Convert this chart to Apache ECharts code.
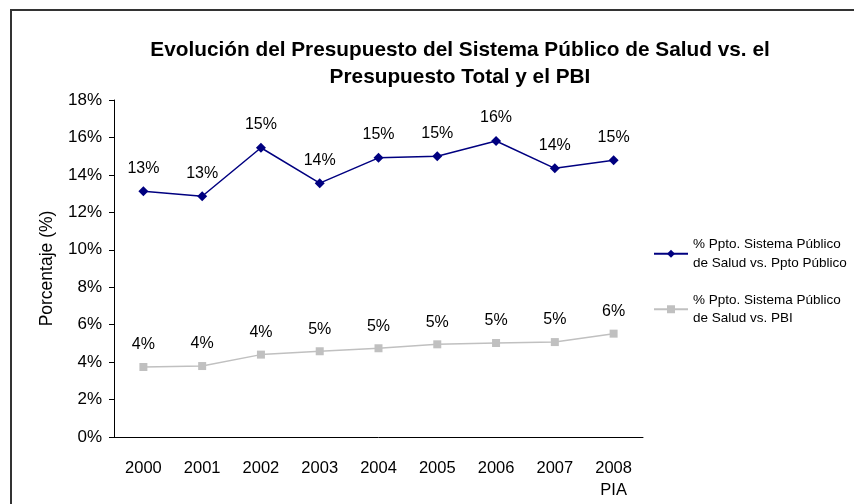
<!DOCTYPE html>
<html>
<head>
<meta charset="utf-8">
<script src="https://cdn.jsdelivr.net/npm/echarts@6/dist/echarts.min.js"></script>
<style>
  html, body { margin: 0; padding: 0; background: #fff; }
  #chart { width: 854px; height: 504px; }
</style>
</head>
<body>
<div id="chart"></div>
<script>
// categorias (años)
var years = ['2000', '2001', '2002', '2003', '2004', '2005', '2006', '2007', '2008\nPIA'];
// % Ppto. Sistema Público de Salud vs. Ppto Público
var vsPptoPublico = [13.13, 12.86, 15.45, 13.56, 14.91, 15.0, 15.81, 14.35, 14.78];
// % Ppto. Sistema Público de Salud vs. PBI
var vsPBI = [3.74, 3.79, 4.40, 4.58, 4.74, 4.95, 5.02, 5.07, 5.52];
var serieNames = [
  '% Ppto. Sistema Público\nde Salud vs. Ppto Público',
  '% Ppto. Sistema Público\nde Salud vs. PBI'
];

var font = 'Liberation Sans, Arial, sans-serif';
var chart = echarts.init(document.getElementById('chart'));

var labelCfg = {
  show: true,
  position: 'top',
  distance: 10,
  fontFamily: font,
  fontSize: 16,
  color: '#000',
  formatter: function (p) { return Math.round(p.value) + '%'; }
};

var option = {
  backgroundColor: '#fff',
  animation: false,
  title: {
    text: 'Evolución del Presupuesto del Sistema Público de Salud vs. el\nPresupuesto Total y el PBI',
    left: 455,
    top: 32,
    textAlign: 'center',
    textStyle: { fontFamily: font, fontSize: 20.8, fontWeight: 'bold', color: '#000', lineHeight: 27 }
  },
  graphic: [{
    type: 'rect',
    shape: { x: 11, y: 10, width: 900, height: 600 },
    style: { fill: null, stroke: '#333', lineWidth: 2 },
    silent: true
  }],
  legend: {
    orient: 'vertical',
    left: 648,
    top: 221,
    itemWidth: 34,
    itemHeight: 10,
    itemGap: 0,
    data: serieNames,
    textStyle: { fontFamily: font, fontSize: 13.5, color: '#000', lineHeight: 18.5, padding: [18.5, 0, 0, 0] }
  },
  grid: { left: 114, right: 211, top: 100, bottom: 67 },
  xAxis: {
    type: 'category',
    data: years,
    boundaryGap: true,
    axisLine: { lineStyle: { color: '#000', width: 1 } },
    axisTick: { length: 5, lineStyle: { color: '#000' } },
    axisLabel: { fontFamily: font, fontSize: 16.5, color: '#000', margin: 20, lineHeight: 22 }
  },
  yAxis: {
    type: 'value',
    min: 0,
    max: 18,
    interval: 2,
    name: 'Porcentaje (%)',
    nameLocation: 'middle',
    nameGap: 58,
    nameTextStyle: { fontFamily: font, fontSize: 17.5, color: '#000' },
    splitLine: { show: false },
    axisLine: { show: true, lineStyle: { color: '#000', width: 1 } },
    axisTick: { show: true, length: 5, lineStyle: { color: '#000' } },
    axisLabel: { fontFamily: font, fontSize: 17, color: '#000', margin: 12, formatter: '{value}%' }
  },
  series: [
    {
      name: serieNames[0],
      type: 'line',
      data: vsPptoPublico,
      symbol: 'diamond',
      symbolSize: 10,
      itemStyle: { color: '#000080' },
      lineStyle: { color: '#000080', width: 1.5 },
      label: labelCfg
    },
    {
      name: serieNames[1],
      type: 'line',
      data: vsPBI,
      symbol: 'rect',
      symbolSize: 8,
      itemStyle: { color: '#c0c0c0' },
      lineStyle: { color: '#c0c0c0', width: 1.5 },
      label: labelCfg
    }
  ]
};

chart.setOption(option);
</script>
</body>
</html>
